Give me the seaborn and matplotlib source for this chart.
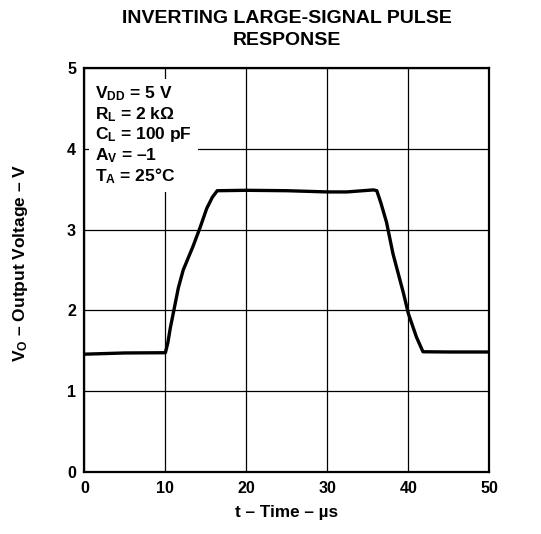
import matplotlib
matplotlib.use("Agg")
import matplotlib.pyplot as plt
import seaborn as sns
import pandas as pd

# ---- data ----
time_us = [0, 5, 10, 10.3, 10.6, 11.0, 11.6, 12.2, 13.4, 14.3, 15.1, 15.8, 16.4,
           20, 25, 30, 32.4, 35.7, 36.1, 36.6, 37.3, 38.1, 39.4, 40, 41.0, 41.8, 45, 50]
vout = [1.46, 1.475, 1.478, 1.60, 1.78, 1.98, 2.28, 2.50, 2.79, 3.03, 3.26, 3.40, 3.48,
        3.485, 3.48, 3.465, 3.465, 3.49, 3.48, 3.33, 3.09, 2.70, 2.21, 1.96, 1.67, 1.49, 1.487, 1.487]
x_ticks = [0, 10, 20, 30, 40, 50]
y_ticks = [0, 1, 2, 3, 4, 5]
title = "INVERTING LARGE-SIGNAL PULSE\nRESPONSE"
xlabel = "t – Time – µs"
ylabel = "V$_{\\rm O}$ – Output Voltage – V"
conditions = ["V$_{\\rm DD}$ = 5 V", "R$_{\\rm L}$ = 2 kΩ", "C$_{\\rm L}$ = 100 pF",
              "A$_{\\rm V}$ = –1", "T$_{\\rm A}$ = 25°C"]

df = pd.DataFrame({"t": time_us, "v": vout})

sns.set_style("white")
plt.rcParams["font.family"] = ["Liberation Sans", "DejaVu Sans"]
plt.rcParams["font.weight"] = "bold"
plt.rcParams["mathtext.fontset"] = "custom"
plt.rcParams["mathtext.rm"] = "Liberation Sans:bold"
plt.rcParams["mathtext.it"] = "Liberation Sans:bold"
plt.rcParams["mathtext.bf"] = "Liberation Sans:bold"
for key in ["text.color", "axes.labelcolor", "xtick.color", "ytick.color", "axes.edgecolor"]:
    plt.rcParams[key] = "black"

fig = plt.figure(figsize=(5.41, 5.34), dpi=100)
ax = fig.add_axes([0.156, 0.1155, 0.7486, 0.7577])

sns.lineplot(data=df, x="t", y="v", ax=ax, color="black", linewidth=2.4, zorder=5)

ax.set_xlim(0, 50)
ax.set_ylim(0, 5)
ax.set_xticks(x_ticks)
ax.set_yticks(y_ticks)
ax.tick_params(length=0, labelsize=11.5, pad=6, colors="black")
for lab in ax.get_xticklabels() + ax.get_yticklabels():
    lab.set_fontweight("bold")
ax.grid(True, color="black", linewidth=0.9, zorder=0)
ax.set_axisbelow(True)
for s in ax.spines.values():
    s.set_visible(True)
    s.set_color("black")
    s.set_linewidth(1.6)

ax.set_xlabel(xlabel, fontsize=12.3, fontweight="bold", labelpad=7, color="black")
ax.set_ylabel(ylabel, fontsize=12.5, fontweight="bold", color="black")
ax.yaxis.set_label_coords(-0.134, 0.517)
ax.set_title(title, fontsize=14, fontweight="bold", pad=16, linespacing=1.4, color="black")

ax.text(0.027, 0.958, "\n".join(conditions), transform=ax.transAxes,
        fontsize=12.5, fontweight="bold", va="top", ha="left", linespacing=1.12,
        color="black",
        bbox=dict(boxstyle="square,pad=0.35", facecolor="white", edgecolor="none"),
        zorder=4)

fig.savefig("out.png", dpi=100)
